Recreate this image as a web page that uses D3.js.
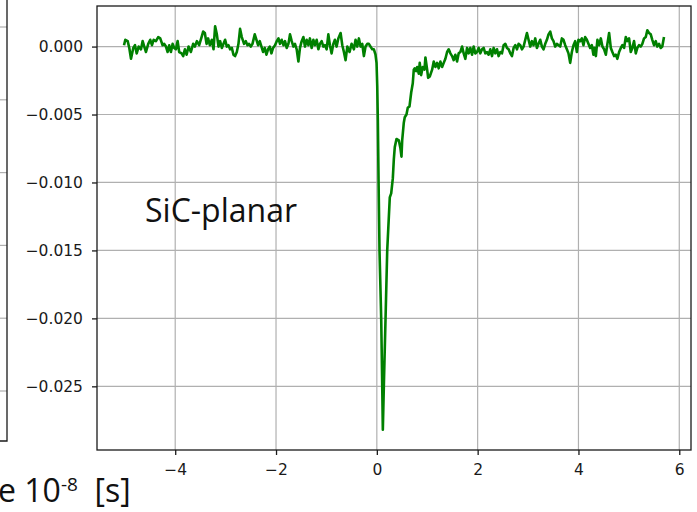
<!DOCTYPE html>
<html>
<head>
<meta charset="utf-8">
<script src="https://cdn.jsdelivr.net/npm/d3@7"></script>
<style>
  body { margin: 0; background: #fff; }
  svg { display: block; }
  .tick text { font-family: "DejaVu Sans", sans-serif; font-size: 15.5px; fill: #1a1a1a; }
  .tick line { stroke: #1a1a1a; stroke-width: 1.3; }
  .big { font-family: "Open Sans", "Noto Sans", sans-serif; fill: #111; }
</style>
</head>
<body>
<svg id="chart" width="697" height="512"></svg>
<script>
// time axis, units of 1e-8 s
const times = [
  // baseline before the pulse
  -5.016, -4.990, -4.943, -4.911, -4.877, -4.832, -4.798, -4.764, -4.725, -4.679,
  -4.646, -4.614, -4.580, -4.535, -4.495, -4.461, -4.428, -4.382, -4.337, -4.297,
  -4.250, -4.218, -4.184, -4.150, -4.119, -4.085, -4.051, -4.020, -3.986, -3.952,
  -3.921, -3.873, -3.842, -3.808, -3.774, -3.735, -3.689, -3.644, -3.610, -3.570,
  -3.525, -3.477, -3.446, -3.412, -3.378, -3.347, -3.313, -3.273, -3.240, -3.208,
  -3.174, -3.141, -3.109, -3.075, -3.042, -3.010, -2.976, -2.943, -2.911, -2.877,
  -2.844, -2.812, -2.778, -2.745, -2.713, -2.679, -2.634,
  -2.600, -2.566, -2.535, -2.501, -2.467, -2.422, -2.388, -2.356, -2.323, -2.289,
  -2.257, -2.224, -2.190, -2.158, -2.125, -2.091, -2.059, -2.020, -1.986, -1.952,
  -1.921, -1.887, -1.853, -1.822, -1.788, -1.754, -1.723, -1.689, -1.655, -1.624,
  -1.590, -1.556, -1.525, -1.491, -1.457, -1.426, -1.392, -1.358, -1.327, -1.293,
  -1.259, -1.228, -1.194, -1.160, -1.129, -1.095, -1.061, -1.030, -0.996, -0.962,
  -0.931, -0.897, -0.863, -0.832, -0.798, -0.764,
  -0.719, -0.685, -0.653, -0.620, -0.586, -0.541, -0.501, -0.455, -0.422, -0.388,
  -0.356, -0.323, -0.289, -0.257, -0.224, -0.190, -0.158, -0.125, -0.091, -0.059, -0.026,
  // the pulse
  -0.006, 0.008, 0.020, 0.034, 0.053, 0.087, 0.107, 0.119, 0.139, 0.172,
  0.206, 0.257, 0.285, 0.317, 0.337, 0.356, 0.390, 0.436, 0.469, 0.489,
  0.503, 0.535, 0.554, 0.588, 0.614, 0.648, 0.681, 0.713, 0.733, 0.752,
  0.780, 0.800, 0.832, 0.851, 0.879, 0.911, 0.945, 0.964, 0.998, 1.018, 1.050,
  // recovery tail
  1.097, 1.129, 1.162, 1.196, 1.228, 1.261, 1.295, 1.327, 1.360, 1.394,
  1.426, 1.459, 1.493, 1.525, 1.558, 1.592, 1.624, 1.657, 1.691, 1.723,
  1.756, 1.790, 1.822, 1.855, 1.889, 1.921, 1.954, 1.988, 2.020, 2.053,
  2.087, 2.119, 2.152, 2.186, 2.218, 2.251, 2.285, 2.317, 2.351, 2.384,
  2.416, 2.450, 2.483, 2.515, 2.549, 2.582, 2.614, 2.648, 2.681, 2.713,
  2.747, 2.780, 2.812, 2.846, 2.879, 2.911, 2.945, 2.978, 3.010, 3.044,
  3.077, 3.109, 3.143, 3.176, 3.208, 3.242, 3.275, 3.307, 3.341, 3.374,
  3.406, 3.440, 3.473, 3.505, 3.539, 3.572, 3.604,
  3.638, 3.671, 3.703, 3.737, 3.770, 3.802, 3.836, 3.869, 3.901, 3.935,
  3.968, 4.000, 4.034, 4.067, 4.099, 4.133, 4.166, 4.198, 4.232, 4.265,
  4.297, 4.317, 4.345, 4.376, 4.410, 4.444, 4.475, 4.509, 4.543, 4.574,
  4.608, 4.642, 4.673, 4.707, 4.741, 4.772, 4.806, 4.840, 4.871, 4.905,
  4.939, 4.970, 5.004, 5.038, 5.069, 5.103, 5.137, 5.168, 5.202, 5.236,
  5.267, 5.301, 5.335, 5.366, 5.400, 5.434, 5.465, 5.499, 5.533, 5.564,
  5.598, 5.632, 5.663, 5.697
];

const signal = [
  0.0001, 0.0005, 0.0004, -0.0001, -0.0009, -0.0001, 0.0001, -0.0005, 0.0000, -0.0002,
  0.0004, 0.0000, -0.0004, 0.0002, 0.0005, 0.0001, 0.0005, 0.0004, 0.0007, 0.0006,
  0.0001, 0.0002, 0.0000, -0.0004, 0.0001, -0.0004, 0.0002, -0.0001, -0.0002, 0.0004,
  -0.0004, -0.0005, -0.0007, -0.0002, -0.0006, 0.0000, -0.0004, 0.0002, 0.0000, 0.0004,
  0.0001, 0.0007, 0.0011, 0.0010, 0.0002, 0.0006, 0.0001, 0.0005, -0.0002, 0.0015,
  0.0009, 0.0000, 0.0004, -0.0001, 0.0002, 0.0005, 0.0000, 0.0001, -0.0002, -0.0001,
  -0.0006, -0.0007, -0.0004, 0.0002, 0.0013, 0.0007, 0.0002,
  0.0004, 0.0001, 0.0002, 0.0000, 0.0002, 0.0009, 0.0005, 0.0001, 0.0004, 0.0000,
  -0.0004, -0.0001, -0.0006, -0.0002, 0.0000, -0.0005, -0.0001, 0.0001, 0.0004, 0.0006,
  0.0002, 0.0005, 0.0001, 0.0004, -0.0001, 0.0002, 0.0009, 0.0004, 0.0000, 0.0002,
  -0.0002, -0.0011, -0.0001, 0.0004, 0.0007, 0.0000, 0.0005, 0.0001, 0.0006, -0.0001,
  0.0005, 0.0001, 0.0005, -0.0002, 0.0002, 0.0004, 0.0000, 0.0001, -0.0002, 0.0009,
  0.0001, -0.0005, 0.0002, 0.0005, 0.0000, 0.0006,
  0.0010, 0.0001, -0.0004, -0.0010, 0.0000, -0.0004, 0.0002, -0.0002, 0.0005, 0.0000,
  0.0006, 0.0000, 0.0002, -0.0007, 0.0000, 0.0002, 0.0002, 0.0000, -0.0002, -0.0002, -0.0006,
  -0.0012, -0.0029, -0.0054, -0.0098, -0.0150, -0.0201, -0.0250, -0.0282, -0.0250, -0.0201,
  -0.0150, -0.0111, -0.0108, -0.0097, -0.0083, -0.0074, -0.0068, -0.0069, -0.0075, -0.0081,
  -0.0069, -0.0056, -0.0052, -0.0050, -0.0045, -0.0044, -0.0034, -0.0027, -0.0017, -0.0016,
  -0.0018, -0.0015, -0.0020, -0.0012, -0.0021, -0.0015, -0.0017, -0.0008, -0.0017, -0.0023, -0.0022,
  -0.0017, -0.0011, -0.0015, -0.0012, -0.0016, -0.0011, -0.0015, -0.0012, -0.0009, -0.0004,
  -0.0002, -0.0005, -0.0007, -0.0010, -0.0006, -0.0011, -0.0005, -0.0004, 0.0000, -0.0005,
  -0.0009, -0.0001, -0.0005, -0.0001, -0.0006, 0.0000, -0.0005, -0.0004, -0.0001, -0.0005,
  -0.0002, -0.0001, -0.0005, -0.0004, -0.0006, -0.0002, -0.0007, -0.0001, -0.0005, -0.0002,
  -0.0007, -0.0004, -0.0005, 0.0001, 0.0002, -0.0001, -0.0002, -0.0005, -0.0007, -0.0001,
  0.0001, -0.0002, 0.0002, 0.0001, -0.0002, 0.0000, 0.0005, 0.0010, 0.0005, 0.0000,
  0.0004, 0.0001, 0.0006, -0.0001, 0.0002, 0.0005, 0.0000, -0.0002, 0.0002, 0.0005,
  0.0009, 0.0011, 0.0006, 0.0004, 0.0000, 0.0002, 0.0001,
  0.0000, 0.0006, 0.0005, 0.0001, -0.0002, -0.0005, -0.0012, -0.0004, 0.0001, 0.0004,
  -0.0004, 0.0005, 0.0004, 0.0006, 0.0001, 0.0007, 0.0005, 0.0002, -0.0001, 0.0001,
  -0.0006, -0.0001, -0.0007, 0.0005, 0.0001, 0.0006, 0.0000, -0.0002, -0.0006, 0.0002,
  0.0010, -0.0001, -0.0004, -0.0007, -0.0006, -0.0009, -0.0004, -0.0001, 0.0001, -0.0001,
  0.0007, 0.0004, 0.0006, -0.0004, -0.0001, 0.0004, -0.0005, -0.0001, 0.0001, 0.0000,
  0.0002, 0.0006, 0.0007, 0.0012, 0.0010, 0.0009, 0.0005, 0.0001, 0.0004, 0.0000,
  0.0002, -0.0001, 0.0000, 0.0007
];

const xTicks = [-4, -2, 0, 2, 4, 6];
const yTicks = [0, -0.005, -0.010, -0.015, -0.020, -0.025];
const sampleLabel = "SiC-planar";

const svg = d3.select('#chart');
const plot = { left: 97, right: 691, top: 6, bottom: 450 };

// matplotlib style autoscale: data extent + 5% each side
function padded(ext) {
  const m = (ext[1] - ext[0]) * 0.05;
  return [ext[0] - m, ext[1] + m];
}

const x = d3.scaleLinear().domain(padded(d3.extent(times))).range([plot.left, plot.right]);
const y = d3.scaleLinear().domain(padded(d3.extent(signal))).range([plot.bottom, plot.top]);

// leftover edge of the neighbouring panel on the slide
const leftGrid = d3.scaleLinear().domain([0, 5]).range([27, 391]);
svg.append('g')
  .selectAll('line')
  .data(d3.range(6))
  .join('line')
  .attr('x1', 0).attr('x2', 7)
  .attr('y1', d => leftGrid(d)).attr('y2', d => leftGrid(d))
  .attr('stroke', '#b0b0b0').attr('stroke-width', 1.2);
svg.append('path')
  .attr('d', 'M7,0V441H0')
  .attr('fill', 'none').attr('stroke', '#1a1a1a').attr('stroke-width', 1.3);

// grid
const grid = svg.append('g');
grid.selectAll('.vx')
  .data(xTicks)
  .join('line')
  .attr('x1', d => x(d)).attr('x2', d => x(d))
  .attr('y1', plot.top).attr('y2', plot.bottom)
  .attr('stroke', '#b0b0b0').attr('stroke-width', 1.2);
grid.selectAll('.hy')
  .data(yTicks)
  .join('line')
  .attr('x1', plot.left).attr('x2', plot.right)
  .attr('y1', d => y(d)).attr('y2', d => y(d))
  .attr('stroke', '#b0b0b0').attr('stroke-width', 1.2);

// trace
const pts = times.map((t, i) => [t, signal[i]]);
svg.append('path')
  .datum(pts)
  .attr('fill', 'none')
  .attr('stroke', '#008000')
  .attr('stroke-width', 2.6)
  .attr('stroke-linejoin', 'round')
  .attr('d', d3.line().x(d => x(d[0])).y(d => y(d[1])));

// axes
svg.append('g')
  .attr('transform', `translate(0,${plot.bottom})`)
  .call(d3.axisBottom(x).tickValues(xTicks).tickFormat(d3.format('d'))
    .tickSizeInner(5).tickSizeOuter(0).tickPadding(9))
  .call(g => g.select('.domain').remove());

svg.append('g')
  .attr('transform', `translate(${plot.left},0)`)
  .call(d3.axisLeft(y).tickValues(yTicks).tickFormat(d3.format('.3f'))
    .tickSizeInner(5).tickSizeOuter(0).tickPadding(9))
  .call(g => g.select('.domain').remove());

svg.selectAll('.tick text').attr('font-family', null).attr('font-size', null);

// frame
svg.append('rect')
  .attr('x', plot.left).attr('y', plot.top)
  .attr('width', plot.right - plot.left).attr('height', plot.bottom - plot.top)
  .attr('fill', 'none').attr('stroke', '#1a1a1a').attr('stroke-width', 1.3);

// sample name
svg.append('text')
  .attr('class', 'big')
  .attr('x', 145).attr('y', 222)
  .attr('font-size', 32)
  .text(sampleLabel);

// axis title cut off by the slide edge, as on the original slide
const unit = svg.append('text')
  .attr('class', 'big')
  .attr('x', -2).attr('y', 502)
  .attr('font-size', 32);
unit.append('tspan').text('e 10');
unit.append('tspan').attr('font-size', 19).attr('dy', -11).text('-8');
unit.append('tspan').attr('dy', 11).text('\u00a0\u00a0[s]');
</script>
</body>
</html>
